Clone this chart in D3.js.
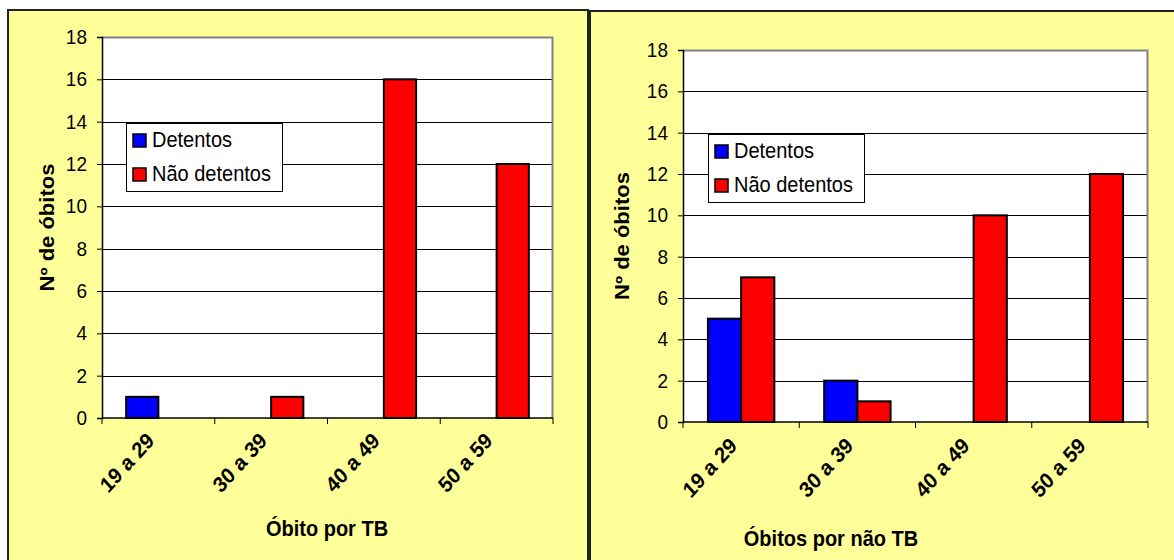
<!DOCTYPE html>
<html>
<head>
<meta charset="utf-8">
<script src="https://cdn.jsdelivr.net/npm/d3@7"></script>
<style>
  html, body { margin: 0; padding: 0; background: #ffffff; }
  svg { display: block; font-family: "Liberation Sans", Arial, sans-serif; }
</style>
</head>
<body>
<svg id="chart" width="1174" height="560"></svg>
<script>
// Age groups shared by both panels
const ageGroups = ["19 a 29", "30 a 39", "40 a 49", "50 a 59"];
const seriesNames = ["Detentos", "Não detentos"];
const seriesColors = ["#0000ff", "#ff0000"];
const yTicks = [0, 2, 4, 6, 8, 10, 12, 14, 16, 18];

// Deaths caused by TB
const tbDetentos = [1, 0, 0, 0];
const tbNaoDetentos = [0, 1, 16, 12];

// Deaths from other causes
const outrosDetentos = [5, 2, 0, 0];
const outrosNaoDetentos = [7, 1, 10, 12];

const yTitle = "Nº de óbitos";

// text is drawn slightly taller than wide
const STRETCH = 1.1;

const svg = d3.select("#chart");

function label(parent, x, y, txt, size, opts = {}) {
  return parent.append("text")
    .attr("transform", `translate(${x},${y}) scale(1,${STRETCH})` + (opts.rotate ? ` rotate(${opts.rotate})` : ""))
    .attr("text-anchor", opts.anchor || "start")
    .attr("font-size", size)
    .attr("font-weight", opts.bold ? "bold" : "normal")
    .attr("fill", "#000")
    .text(txt);
}

function drawPanel(opt) {
  const g = svg.append("g");

  // panel background and frame
  g.append("rect")
    .attr("x", opt.frame[0]).attr("y", opt.frame[1])
    .attr("width", opt.frame[2]).attr("height", opt.frame[3])
    .attr("fill", "#ffff99")
    .attr("stroke", "#222").attr("stroke-width", 2);

  const [x0, x1] = opt.plotX;
  const [yTop, yBot] = opt.plotY;

  const x = d3.scaleBand().domain(ageGroups).range([x0, x1]);
  const y = d3.scaleLinear().domain([0, 18]).range([yBot, yTop]);
  // two bars per group, 150% gap between groups
  const barW = x.bandwidth() / 3.5;

  // plot area
  g.append("rect")
    .attr("x", x0).attr("y", yTop)
    .attr("width", x1 - x0).attr("height", yBot - yTop)
    .attr("fill", "#ffffff");

  // horizontal gridlines
  g.append("g").selectAll("line")
    .data(yTicks.filter(t => t > 0 && t < 18))
    .join("line")
    .attr("x1", x0).attr("x2", x1)
    .attr("y1", d => Math.round(y(d)) + 0.5).attr("y2", d => Math.round(y(d)) + 0.5)
    .attr("stroke", "#000").attr("stroke-width", 1);

  // grey border of plot area (top and right)
  g.append("path")
    .attr("d", `M${x0},${yTop + 0.5}H${x1 - 0.5}V${yBot}`)
    .attr("fill", "none").attr("stroke", "#808080").attr("stroke-width", 2);

  // bars
  const rows = [];
  opt.values.forEach((vals, si) => {
    vals.forEach((v, ci) => {
      if (v > 0) rows.push({ cat: ageGroups[ci], v, si });
    });
  });
  g.append("g").selectAll("rect")
    .data(rows)
    .join("rect")
    .attr("x", d => x(d.cat) + x.bandwidth() / 2 - barW + d.si * barW)
    .attr("y", d => y(d.v))
    .attr("width", barW)
    .attr("height", d => y(0) - y(d.v))
    .attr("fill", d => seriesColors[d.si])
    .attr("stroke", "#000").attr("stroke-width", 2);

  // y axis (ticks from the scale, labels drawn with the stretched text helper)
  const yAxis = g.append("g")
    .attr("transform", `translate(${x0},0)`)
    .call(d3.axisLeft(y).tickValues(yTicks).tickSize(5).tickFormat(""));
  yAxis.select(".domain").attr("stroke", "#000").attr("stroke-width", 1.5);
  yAxis.selectAll(".tick line").attr("stroke", "#000");
  yTicks.forEach(t => {
    label(g, x0 - 15, y(t) + 7, d3.format("d")(t), 19, { anchor: "end" });
  });

  // x axis with ticks at group boundaries
  const xAxis = g.append("g").attr("transform", `translate(0,${yBot})`);
  xAxis.append("line")
    .attr("x1", x0).attr("x2", x1)
    .attr("stroke", "#000").attr("stroke-width", 1.5);
  xAxis.selectAll("line.tk")
    .data(ageGroups.concat([null]))
    .join("line").attr("class", "tk")
    .attr("x1", (d, i) => i < ageGroups.length ? x(d) : x1)
    .attr("x2", (d, i) => i < ageGroups.length ? x(d) : x1)
    .attr("y1", 0).attr("y2", 6)
    .attr("stroke", "#000").attr("stroke-width", 1);
  ageGroups.forEach(c => {
    label(g, x(c) + x.bandwidth() / 2 - 3, yBot + opt.labelDy, c, 20,
      { anchor: "end", bold: true, rotate: -45 });
  });

  // axis titles
  label(g, opt.xTitlePos[0], opt.xTitlePos[1], opt.xTitle, 20, { anchor: "middle", bold: true });
  label(g, opt.yTitleX, (yTop + yBot) / 2, yTitle, 20, { anchor: "middle", bold: true, rotate: -90 });

  // legend
  const [lx, ly, lw, lh] = opt.legend;
  const lg = g.append("g");
  lg.append("rect")
    .attr("x", lx + 0.5).attr("y", ly + 0.5)
    .attr("width", lw).attr("height", lh)
    .attr("fill", "#fff").attr("stroke", "#000").attr("stroke-width", 1);
  seriesNames.forEach((name, i) => {
    const rowY = ly + 11 + i * 34;
    lg.append("rect")
      .attr("x", lx + 7).attr("y", rowY)
      .attr("width", 13).attr("height", 13)
      .attr("fill", seriesColors[i]).attr("stroke", "#000").attr("stroke-width", 1.5);
    label(lg, lx + 26, rowY + 13, name, 20);
  });
}

drawPanel({
  frame: [8, 10, 580, 600],
  plotX: [102, 553],
  plotY: [37, 418],
  values: [tbDetentos, tbNaoDetentos],
  labelDy: 24,
  xTitle: "Óbito por TB",
  xTitlePos: [327, 536],
  yTitleX: 54,
  legend: [126, 123, 156, 68]
});

drawPanel({
  frame: [590, 11, 620, 600],
  plotX: [683, 1148],
  plotY: [50, 422],
  values: [outrosDetentos, outrosNaoDetentos],
  labelDy: 25,
  xTitle: "Óbitos por não TB",
  xTitlePos: [831, 546],
  yTitleX: 629,
  legend: [708, 134, 156, 68]
});
</script>
</body>
</html>
